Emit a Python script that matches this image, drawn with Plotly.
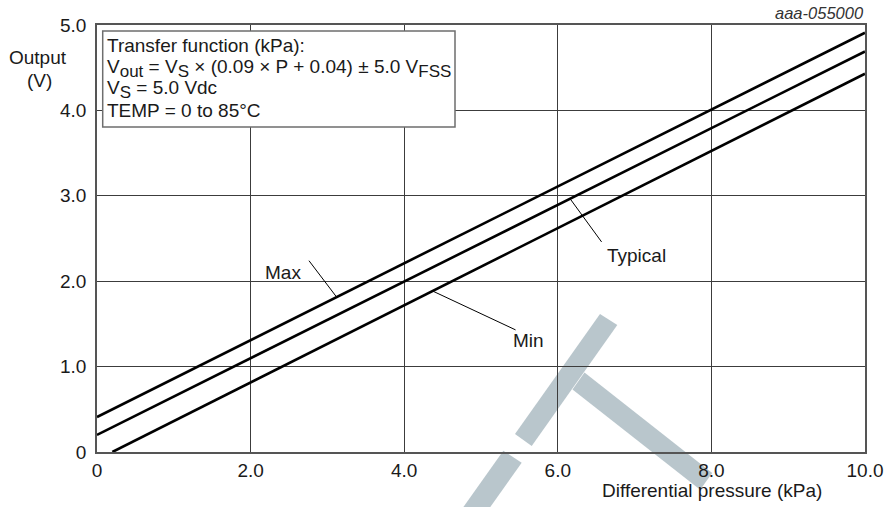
import numpy as np
import plotly.graph_objects as go

# ---------------- data ----------------
pressure_max = [0.0, 10.0]
output_max = [0.41, 4.91]
pressure_typ = [0.0, 10.0]
output_typ = [0.20, 4.69]
pressure_min = [0.2, 10.0]
output_min = [0.0, 4.43]

x_tickvals = [0, 2, 4, 6, 8, 10]
x_ticktext = ["0", "2.0", "4.0", "6.0", "8.0", "10.0"]
y_tickvals = [0, 1, 2, 3, 4, 5]
y_ticktext = ["0", "1.0", "2.0", "3.0", "4.0", "5.0"]

SUB = '<sub><span style="font-size:17px">{}</span></sub>'
box_lines = [
    "Transfer function (kPa):",
    "V" + SUB.format("out") + " = V" + SUB.format("S") +
    " × (0.09 × P + 0.04) ± 5.0 V" + SUB.format("FSS"),
    "V" + SUB.format("S") + " = 5.0 Vdc",
    "TEMP = 0 to 85°C",
]

# ---------------- layout constants ----------------
W, H = 888, 507
ML, MR, MT, MB = 97, 23, 25, 55
PW, PH = W - ML - MR, H - MT - MB
FONT = "Liberation Sans, Arial, sans-serif"
FS = 19
TXT = "#1a1a1a"


def px(x):
    return (x - ML) / PW


def py(y):
    return (H - MB - y) / PH


fig = go.Figure()
for xs, ys, name in [(pressure_max, output_max, "Max"),
                     (pressure_typ, output_typ, "Typical"),
                     (pressure_min, output_min, "Min")]:
    fig.add_trace(go.Scatter(x=xs, y=ys, mode="lines", name=name,
                             line=dict(color="black", width=2.6),
                             showlegend=False, hoverinfo="skip"))

shapes = []
# watermark (paper coords, drawn below)
wm = "#b9c6cc"
polys = [
    [(600, 314), (617.3, 325), (531.7, 446), (515, 434)],
    [(503.3, 450.7), (521.7, 462.7), (490.3, 507), (463.4, 507)],
    [(584.5, 372.5), (712.2, 473.1), (700.2, 489.7), (572.5, 389.5)],
]
for poly in polys:
    path = "M " + " L ".join(f"{px(a):.5f},{py(b):.5f}" for a, b in poly) + " Z"
    shapes.append(dict(type="path", xref="paper", yref="paper", path=path,
                       fillcolor=wm, line=dict(width=0), layer="below"))


def leader(xa, ya, xb, yb):
    return dict(type="line", xref="x", yref="y", x0=xa, y0=ya, x1=xb, y1=yb,
                line=dict(color="black", width=1), layer="above")


p_max = 3.12
shapes.append(leader(2.76, 2.24, p_max, float(np.interp(p_max, pressure_max, output_max))))
p_min = 4.37
shapes.append(leader(5.45, 1.43, p_min, float(np.interp(p_min, pressure_min, output_min))))
p_typ = 6.16
shapes.append(leader(6.57, 2.46, p_typ, float(np.interp(p_typ, pressure_typ, output_typ))))

# text box
shapes.append(dict(type="rect", xref="paper", yref="paper",
                   x0=px(102.7), x1=px(455), y0=py(127), y1=py(31),
                   fillcolor="white", line=dict(color="#6e6e6e", width=1.5),
                   layer="above"))

annotations = []
for t, yc in zip(box_lines, [45, 68, 90, 110]):
    annotations.append(dict(xref="paper", yref="paper", x=px(104.5), y=py(yc),
                            xanchor="left", yanchor="middle", text=t,
                            showarrow=False, font=dict(family=FONT, size=FS, color=TXT)))

annotations += [
    dict(xref="paper", yref="paper", x=px(38), y=py(58), text="Output",
         showarrow=False, xanchor="center", yanchor="middle",
         font=dict(family=FONT, size=FS, color=TXT)),
    dict(xref="paper", yref="paper", x=px(39), y=py(80), text="(V)",
         showarrow=False, xanchor="center", yanchor="middle",
         font=dict(family=FONT, size=FS, color=TXT)),
    dict(xref="paper", yref="paper", x=px(823.5), y=py(490),
         text="Differential pressure (kPa)", showarrow=False,
         xanchor="right", yanchor="middle",
         font=dict(family=FONT, size=FS, color=TXT)),
    dict(xref="paper", yref="paper", x=px(865.5), y=py(13),
         text="<i>aaa-055000</i>", showarrow=False,
         xanchor="right", yanchor="middle",
         font=dict(family=FONT, size=16.5, color="#333333")),
    dict(xref="x", yref="y", x=2.42, y=2.10, text="Max", showarrow=False,
         xanchor="center", yanchor="middle",
         font=dict(family=FONT, size=FS, color=TXT)),
    dict(xref="x", yref="y", x=5.62, y=1.31, text="Min", showarrow=False,
         xanchor="center", yanchor="middle",
         font=dict(family=FONT, size=FS, color=TXT)),
    dict(xref="x", yref="y", x=7.03, y=2.30, text="Typical", showarrow=False,
         xanchor="center", yanchor="middle",
         font=dict(family=FONT, size=FS, color=TXT)),
]

axis_common = dict(showgrid=True, gridcolor="#3c3c3c", gridwidth=1,
                   showline=True, linecolor="#555555", linewidth=1.5,
                   mirror=True, zeroline=False, ticks="", automargin=False,
                   tickfont=dict(family=FONT, size=FS, color=TXT))

fig.update_layout(
    width=W, height=H,
    autosize=False,
    margin=dict(l=ML, r=MR, t=MT, b=MB, pad=0, autoexpand=False),
    paper_bgcolor="white",
    plot_bgcolor="rgba(0,0,0,0)",
    xaxis=dict(range=[0, 10], tickvals=x_tickvals, ticktext=x_ticktext,
               ticklabelstandoff=0, **axis_common),
    yaxis=dict(range=[0, 5], tickvals=y_tickvals, ticktext=y_ticktext,
               ticklabelstandoff=5, **axis_common),
    shapes=shapes,
    annotations=annotations,
    showlegend=False,
)

fig.write_html("out.html",
               config={"displayModeBar": False, "responsive": False},
               post_script="document.body.style.margin='0';"
                           "document.body.style.overflow='hidden';")
